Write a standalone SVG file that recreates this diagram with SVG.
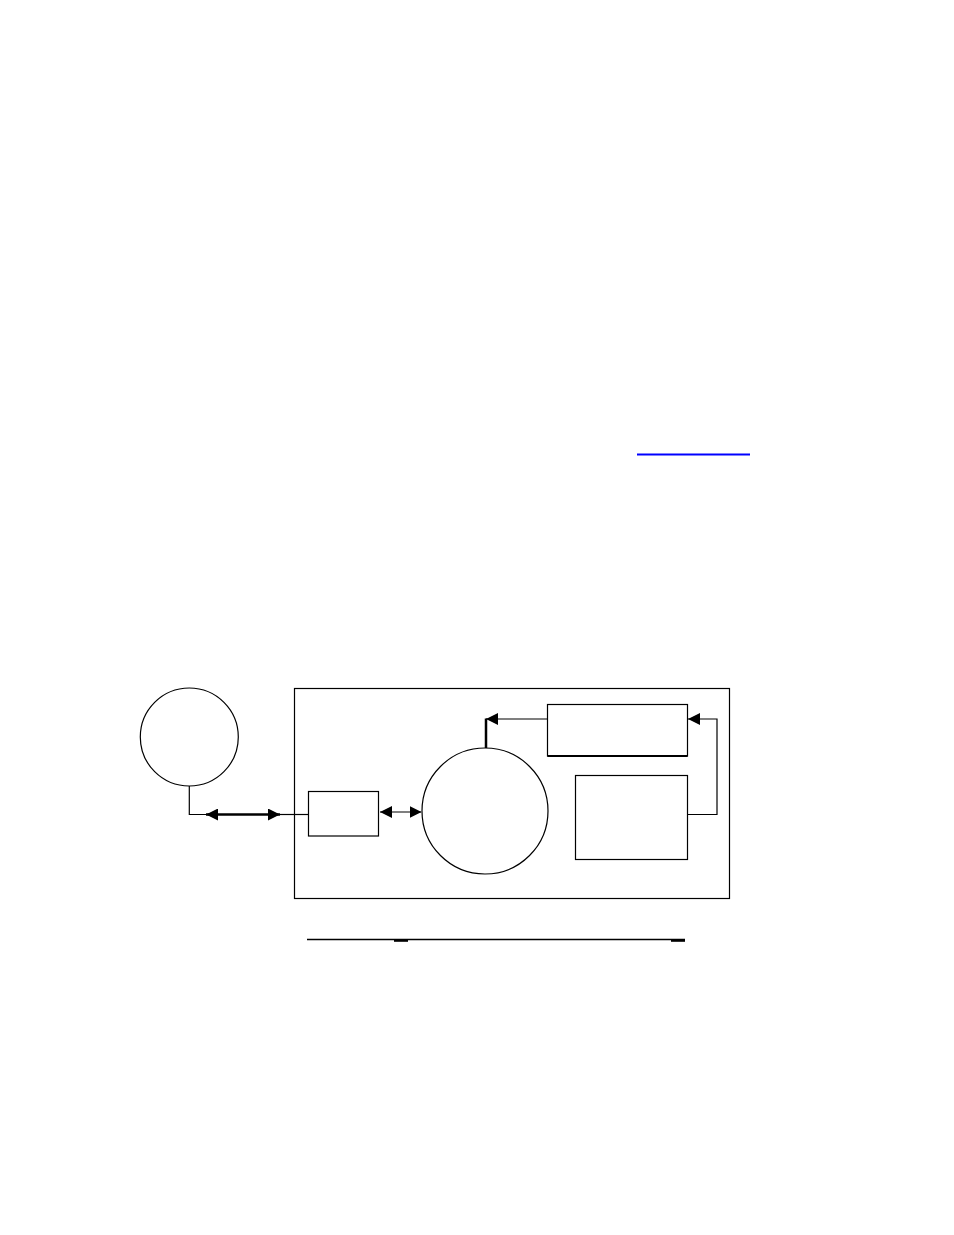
<svg xmlns="http://www.w3.org/2000/svg" width="954" height="1235" viewBox="0 0 954 1235">
<style>
.shape{fill:#fff;stroke:#000;stroke-width:1.2}
.conn{fill:none;stroke:#000;stroke-width:1.2}
.thick{fill:none;stroke:#000;stroke-width:2.5}
</style>
<defs>
<marker id="ah" markerUnits="userSpaceOnUse" markerWidth="12" markerHeight="12" viewBox="0 0 12 12" refX="12" refY="6" orient="auto-start-reverse">
<path d="M0,0 L12,6 L0,12 z" fill="#000"/>
</marker>
</defs>
<rect width="954" height="1235" fill="#fff"/>
<line id="link-underline" x1="637" y1="454.5" x2="750" y2="454.5" stroke="#0000ff" stroke-width="2"/>
<g id="outer-box"><rect class="shape" x="294.5" y="688.5" width="435" height="210"/></g>
<g id="left-circle"><circle class="shape" cx="189.3" cy="737" r="49"/></g>
<g id="small-box"><rect class="shape" x="308.5" y="791.5" width="70" height="44.5"/></g>
<g id="big-circle"><circle class="shape" cx="485" cy="811" r="63"/></g>
<g id="top-box"><rect class="shape" x="547.5" y="704.5" width="140" height="51.5"/><line x1="547.5" y1="756" x2="687.5" y2="756" stroke="#000" stroke-width="2"/></g>
<g id="right-box"><rect class="shape" x="575.5" y="775.5" width="112" height="84"/></g>
<g id="connectors">
<polyline class="conn" points="189.3,786 189.3,814.5 206,814.5"/>
<line class="thick" x1="206" y1="814.5" x2="280" y2="814.5" marker-start="url(#ah)" marker-end="url(#ah)"/>
<line class="conn" x1="280" y1="814.5" x2="308.5" y2="814.5"/>
<line x1="380" y1="812" x2="421.5" y2="812" stroke="#555" stroke-width="1.5" marker-start="url(#ah)" marker-end="url(#ah)"/>
<line class="thick" x1="486" y1="748" x2="486" y2="718.5"/>
<line class="conn" x1="547.5" y1="719" x2="486" y2="719" marker-end="url(#ah)"/>
<polyline class="conn" points="687.5,814.5 717,814.5 717,719 688,719" marker-end="url(#ah)"/>
</g>
<g id="footer-rule">
<line x1="307" y1="939.5" x2="685" y2="939.5" stroke="#000" stroke-width="1.5"/>
<rect x="394" y="939.5" width="14" height="2.3" fill="#000"/>
<rect x="671" y="939.5" width="14" height="2.3" fill="#000"/>
</g>
</svg>
